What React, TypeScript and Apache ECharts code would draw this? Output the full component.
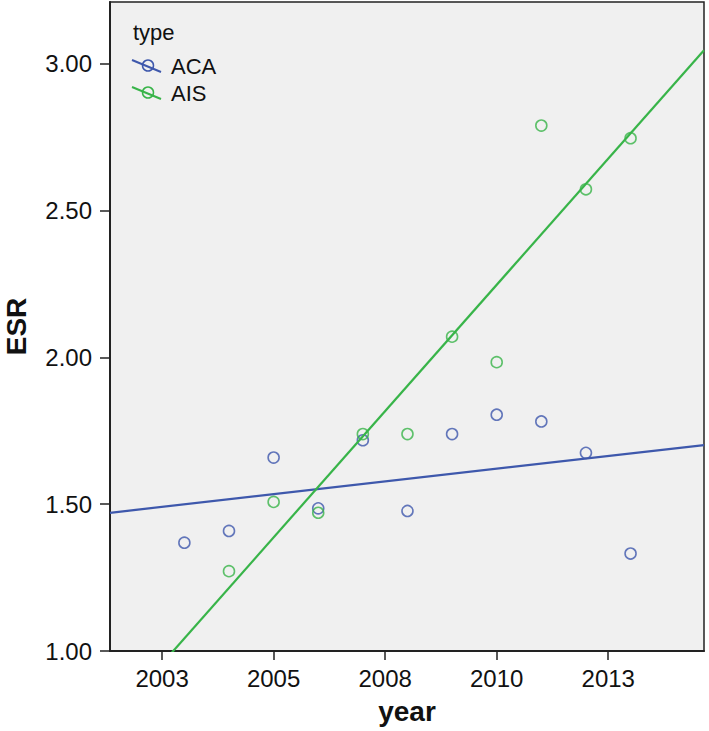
import React, { useEffect, useRef } from "react";
import * as echarts from "echarts";

const seriesNames = ["ACA", "AIS"];
const legendTitle = "type";
const acaYears = [2003, 2004, 2005, 2006, 2007, 2008, 2009, 2010, 2011, 2012, 2013];
const acaValues = [1.369, 1.409, 1.659, 1.486, 1.718, 1.477, 1.739, 1.805, 1.782, 1.675, 1.332];
const aisYears = [2004, 2005, 2006, 2007, 2008, 2009, 2010, 2011, 2012, 2013];
const aisValues = [1.272, 1.508, 1.471, 1.739, 1.739, 2.071, 1.984, 2.79, 2.573, 2.747];
const xTickValues = [2002.5, 2005, 2007.5, 2010, 2012.5];
const yTickValues = [1, 1.5, 2, 2.5, 3];
const xMin = 2001.333;
const xMax = 2014.646;
const yMin = 1;
const yMax = 3.211;

const colors = ["#3E58AC", "#38B449"];
const FONT = "'Liberation Sans', Arial, sans-serif";

function fit(xs: number[], ys: number[]) {
  const n = xs.length;
  const mx = xs.reduce((a, b) => a + b, 0) / n;
  const my = ys.reduce((a, b) => a + b, 0) / n;
  let sxy = 0;
  let sxx = 0;
  for (let i = 0; i < n; i++) {
    sxy += (xs[i] - mx) * (ys[i] - my);
    sxx += (xs[i] - mx) * (xs[i] - mx);
  }
  const b = sxy / sxx;
  const a = my - b * mx;
  return (x: number) => a + b * x;
}

export default function App() {
  const ref = useRef<HTMLDivElement>(null);
  useEffect(() => {
    if (!ref.current) return;
    const chart = echarts.init(ref.current, undefined, { renderer: "svg" });
    const fAca = fit(acaYears, acaValues);
    const fAis = fit(aisYears, aisValues);
    const lineSeg = (f: (x: number) => number) => [
      [xMin, f(xMin)],
      [xMax, f(xMax)],
    ];
    const legendRow = (i: number, y: number) => ({
      type: "group",
      children: [
        {
          type: "line",
          shape: { x1: 132, y1: y - 6, x2: 161, y2: y + 6 },
          style: { stroke: colors[i], lineWidth: 2 },
        },
        {
          type: "circle",
          shape: { cx: 148, cy: y - 0.5, r: 5.5 },
          style: { fill: "none", stroke: colors[i], lineWidth: 1.5 },
        },
        {
          type: "text",
          x: 171,
          y: y,
          style: {
            text: seriesNames[i],
            font: `22px ${FONT}`,
            fill: "#111",
            verticalAlign: "middle",
          },
        },
      ],
    });
    chart.setOption({
      animation: false,
      backgroundColor: "#ffffff",
      grid: {
        left: 110,
        right: 5,
        top: 2,
        bottom: 80,
        show: true,
        backgroundColor: "#F0F0F0",
        borderColor: "#222",
        borderWidth: 1.5,
        containLabel: false,
        outerBoundsMode: "none",
      },
      xAxis: {
        type: "value",
        min: xMin,
        max: xMax,
        name: "year",
        nameLocation: "middle",
        nameGap: 46,
        nameTextStyle: { fontFamily: FONT, fontSize: 28, fontWeight: "bold", color: "#111" },
        axisLine: { show: true, lineStyle: { color: "#222", width: 2 } },
        axisTick: { show: true, length: 9, customValues: xTickValues, lineStyle: { color: "#222", width: 1.5 } },
        axisLabel: {
          customValues: xTickValues,
          margin: 15,
          fontFamily: FONT,
          fontSize: 24,
          color: "#111",
          formatter: (v: number) => String(Math.round(v)),
        },
        splitLine: { show: false },
      },
      yAxis: {
        type: "value",
        min: yMin,
        max: yMax,
        name: "ESR",
        nameLocation: "middle",
        nameGap: 80,
        nameTextStyle: { fontFamily: FONT, fontSize: 28, fontWeight: "bold", color: "#111" },
        axisLine: { show: true, lineStyle: { color: "#222", width: 2 } },
        axisTick: { show: true, length: 10, customValues: yTickValues, lineStyle: { color: "#222", width: 1.5 } },
        axisLabel: {
          customValues: yTickValues,
          margin: 18,
          fontFamily: FONT,
          fontSize: 24,
          color: "#111",
          formatter: (v: number) => v.toFixed(2),
        },
        splitLine: { show: false },
      },
      graphic: [
        {
          type: "text",
          x: 133,
          y: 32,
          style: {
            text: legendTitle,
            font: `22px ${FONT}`,
            fill: "#111",
            verticalAlign: "middle",
          },
        },
        legendRow(0, 66),
        legendRow(1, 93),
      ],
      series: [
        {
          name: seriesNames[0],
          type: "scatter",
          symbol: "circle",
          symbolSize: 11,
          data: acaYears.map((y, i) => [y, acaValues[i]]),
          itemStyle: { color: "rgba(0,0,0,0)", borderColor: colors[0], borderWidth: 1.6 },
          z: 3,
        },
        {
          name: seriesNames[1],
          type: "scatter",
          symbol: "circle",
          symbolSize: 11,
          data: aisYears.map((y, i) => [y, aisValues[i]]),
          itemStyle: { color: "rgba(0,0,0,0)", borderColor: colors[1], borderWidth: 1.6 },
          z: 3,
        },
        {
          name: seriesNames[0] + " fit",
          type: "line",
          data: lineSeg(fAca),
          showSymbol: false,
          lineStyle: { color: colors[0], width: 2.2 },
          z: 4,
        },
        {
          name: seriesNames[1] + " fit",
          type: "line",
          data: lineSeg(fAis),
          showSymbol: false,
          lineStyle: { color: colors[1], width: 2.2 },
          z: 4,
        },
      ],
    });
    return () => chart.dispose();
  }, []);
  return (
    <div
      ref={ref}
      style={{ position: "fixed", left: 0, top: 0, width: 709, height: 731 }}
    />
  );
}
